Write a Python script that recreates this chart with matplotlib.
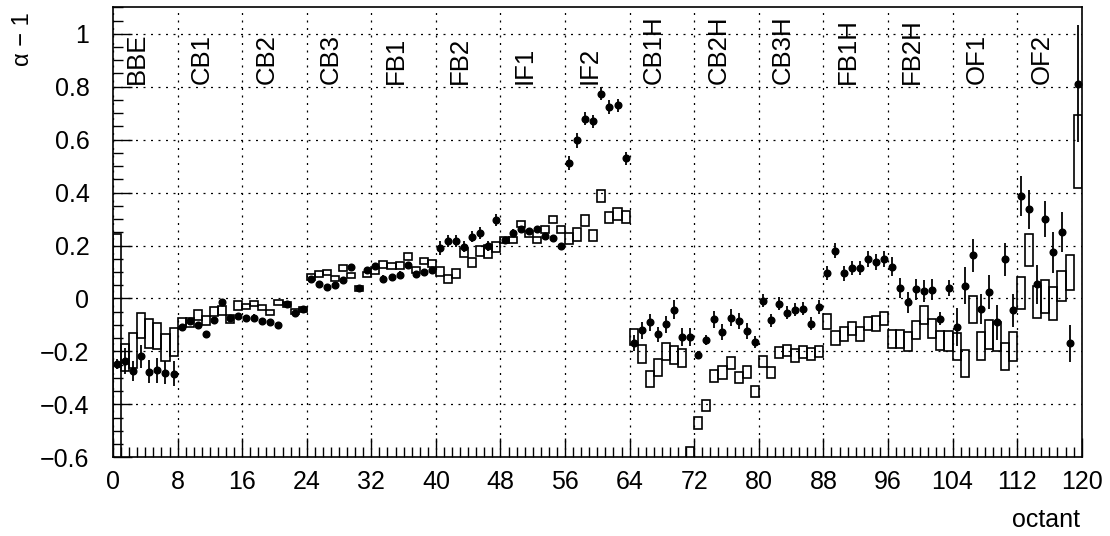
import matplotlib
matplotlib.use("Agg")
import matplotlib.pyplot as plt
from matplotlib.patches import Rectangle
from matplotlib.ticker import MultipleLocator, FuncFormatter
import numpy as np

plt.rcParams['font.family'] = ['Liberation Sans', 'DejaVu Sans']

# ---- data ----
octant = np.arange(120)

alpha_m1 = [
    -0.248, -0.236, -0.274, -0.218, -0.277, -0.272, -0.280, -0.284,
    -0.109, -0.084, -0.099, -0.133, -0.083, -0.015, -0.075, -0.067,
    -0.073, -0.072, -0.086, -0.089, -0.102, -0.020, -0.054, -0.040,
    0.074, 0.053, 0.042, 0.050, 0.071, 0.118, 0.039, 0.108,
    0.123, 0.075, 0.081, 0.090, 0.127, 0.091, 0.100, 0.108,
    0.191, 0.216, 0.218, 0.196, 0.234, 0.247, 0.199, 0.297,
    0.221, 0.249, 0.263, 0.254, 0.261, 0.235, 0.228, 0.199,
    0.511, 0.597, 0.679, 0.670, 0.774, 0.723, 0.730, 0.529,
    -0.167, -0.120, -0.090, -0.135, -0.097, -0.042, -0.145, -0.145,
    -0.215, -0.157, -0.078, -0.128, -0.073, -0.085, -0.124, -0.165,
    -0.009, -0.083, -0.020, -0.053, -0.043, -0.039, -0.095, -0.032,
    0.096, 0.181, 0.095, 0.115, 0.115, 0.150, 0.138, 0.149,
    0.120, 0.039, -0.015, 0.034, 0.028, 0.033, -0.077, 0.039,
    -0.108, 0.049, 0.163, -0.040, 0.025, -0.090, 0.148, -0.045,
    0.388, 0.337, 0.053, 0.301, 0.174, 0.250, -0.169, 0.812,
]

alpha_err = [
    0.020, 0.050, 0.036, 0.043, 0.044, 0.046, 0.044, 0.046,
    0.012, 0.012, 0.012, 0.012, 0.012, 0.012, 0.012, 0.012,
    0.012, 0.012, 0.012, 0.012, 0.012, 0.012, 0.012, 0.012,
    0.012, 0.012, 0.012, 0.012, 0.012, 0.012, 0.012, 0.012,
    0.012, 0.012, 0.012, 0.012, 0.012, 0.012, 0.012, 0.012,
    0.025, 0.022, 0.022, 0.022, 0.022, 0.022, 0.020, 0.023,
    0.012, 0.012, 0.012, 0.012, 0.012, 0.012, 0.012, 0.012,
    0.027, 0.027, 0.025, 0.025, 0.025, 0.025, 0.025, 0.025,
    0.030, 0.032, 0.033, 0.028, 0.032, 0.035, 0.035, 0.035,
    0.015, 0.020, 0.032, 0.030, 0.032, 0.030, 0.030, 0.022,
    0.025, 0.025, 0.025, 0.025, 0.025, 0.025, 0.025, 0.025,
    0.028, 0.028, 0.028, 0.028, 0.028, 0.030, 0.030, 0.030,
    0.035, 0.038, 0.040, 0.040, 0.040, 0.040, 0.025, 0.030,
    0.072, 0.069, 0.063, 0.057, 0.063, 0.065, 0.063, 0.063,
    0.076, 0.074, 0.072, 0.069, 0.076, 0.076, 0.070, 0.220,
]

box_low = [
    -0.750, -0.273, -0.262, -0.151, -0.187, -0.189, -0.236, -0.218,
    -0.107, -0.107, -0.082, -0.100, -0.067, -0.063, -0.094, -0.042,
    -0.038, -0.028, -0.045, -0.063, -0.023, -0.031, -0.059, -0.052,
    0.069, 0.082, 0.089, 0.067, 0.104, 0.076, 0.029, 0.080,
    0.092, 0.115, 0.111, 0.111, 0.147, 0.095, 0.130, 0.118,
    0.084, 0.057, 0.077, 0.156, 0.120, 0.162, 0.153, 0.175,
    0.209, 0.209, 0.269, 0.234, 0.210, 0.249, 0.287, 0.248,
    0.204, 0.219, 0.272, 0.216, 0.364, 0.284, 0.298, 0.286,
    -0.177, -0.244, -0.335, -0.293, -0.234, -0.246, -0.259, -0.620,
    -0.493, -0.424, -0.317, -0.304, -0.266, -0.321, -0.299, -0.372,
    -0.258, -0.299, -0.223, -0.217, -0.241, -0.225, -0.231, -0.222,
    -0.115, -0.174, -0.162, -0.138, -0.162, -0.119, -0.121, -0.102,
    -0.187, -0.187, -0.198, -0.154, -0.098, -0.149, -0.194, -0.199,
    -0.232, -0.298, -0.093, -0.232, -0.190, -0.199, -0.270, -0.235,
    -0.039, 0.124, -0.073, -0.053, -0.083, -0.010, 0.033, 0.417,
]

box_high = [
    0.245, -0.172, -0.132, -0.053, -0.078, -0.091, -0.136, -0.113,
    -0.075, -0.073, -0.042, -0.067, -0.031, -0.029, -0.063, -0.010,
    -0.019, -0.010, -0.025, -0.042, -0.004, -0.013, -0.038, -0.031,
    0.092, 0.102, 0.109, 0.086, 0.125, 0.097, 0.048, 0.101,
    0.118, 0.143, 0.135, 0.137, 0.172, 0.120, 0.153, 0.144,
    0.118, 0.090, 0.111, 0.191, 0.153, 0.199, 0.203, 0.213,
    0.232, 0.232, 0.293, 0.255, 0.234, 0.274, 0.313, 0.273,
    0.248, 0.267, 0.317, 0.259, 0.411, 0.326, 0.342, 0.330,
    -0.114, -0.177, -0.274, -0.227, -0.168, -0.181, -0.192, -0.560,
    -0.449, -0.383, -0.270, -0.256, -0.222, -0.279, -0.256, -0.330,
    -0.217, -0.258, -0.182, -0.174, -0.192, -0.181, -0.187, -0.178,
    -0.058, -0.124, -0.109, -0.088, -0.109, -0.069, -0.068, -0.051,
    -0.120, -0.120, -0.128, -0.085, -0.030, -0.078, -0.121, -0.121,
    -0.130, -0.194, 0.011, -0.127, -0.083, -0.090, -0.168, -0.127,
    0.083, 0.242, 0.049, 0.071, 0.043, 0.103, 0.166, 0.692,
]

region_labels = ['BBE', 'CB1', 'CB2', 'CB3', 'FB1', 'FB2', 'IF1', 'IF2',
                 'CB1H', 'CB2H', 'CB3H', 'FB1H', 'FB2H', 'OF1', 'OF2']

# ---- figure ----
W, H = 1110, 536
fig = plt.figure(figsize=(W / 100, H / 100), dpi=100)
ax = fig.add_axes([113 / W, 1 - 457.3 / H, 968.7 / W, 450 / H])

ax.set_xlim(0, 120)
ax.set_ylim(-0.6, 1.1)

# boxes
for i, lo, hi in zip(octant, box_low, box_high):
    ax.add_patch(Rectangle((i, lo), 1.0, hi - lo, facecolor='none',
                           edgecolor='black', linewidth=1.2, zorder=3))

# points with error bars
ax.errorbar(octant + 0.5, alpha_m1, yerr=alpha_err, fmt='o', color='black',
            markersize=4.8, elinewidth=1.3, capsize=0, zorder=4)

# grid
ax.grid(True, which='major', color='black', linestyle=(0, (1.6, 4.4)),
        linewidth=0.9)
ax.set_axisbelow(True)

# ticks
ax.xaxis.set_major_locator(MultipleLocator(8))
ax.xaxis.set_minor_locator(MultipleLocator(1))
ax.yaxis.set_major_locator(MultipleLocator(0.2))
ax.yaxis.set_minor_locator(MultipleLocator(0.05))
ax.yaxis.set_major_formatter(FuncFormatter(
    lambda v, p: ('%g' % round(v, 2)).replace('-', '\u2212')))
ax.tick_params(which='both', direction='in', top=False, right=False,
               width=1.0, colors='black')
ax.tick_params(which='major', length=14)
ax.tick_params(which='minor', length=7)
ax.tick_params(axis='x', which='major', labelsize=18, pad=9)
ax.tick_params(axis='y', which='major', labelsize=18, pad=17)
for s in ax.spines.values():
    s.set_linewidth(1.2)

# region labels
for k, lab in enumerate(region_labels):
    ax.text(8 * k + 3.0, 0.81, lab, rotation=90, ha='center', va='bottom',
            fontsize=18.5, zorder=5)

# axis titles
fig.text(1080 / W, 1 - 527 / H, 'octant', ha='right', va='baseline',
         fontsize=18)
fig.text(23 / W, 1 - 12 / H, '\u03b1 \u2212 1', rotation=90, ha='center',
         va='top', fontsize=17)

fig.savefig('out.png', dpi=100)
